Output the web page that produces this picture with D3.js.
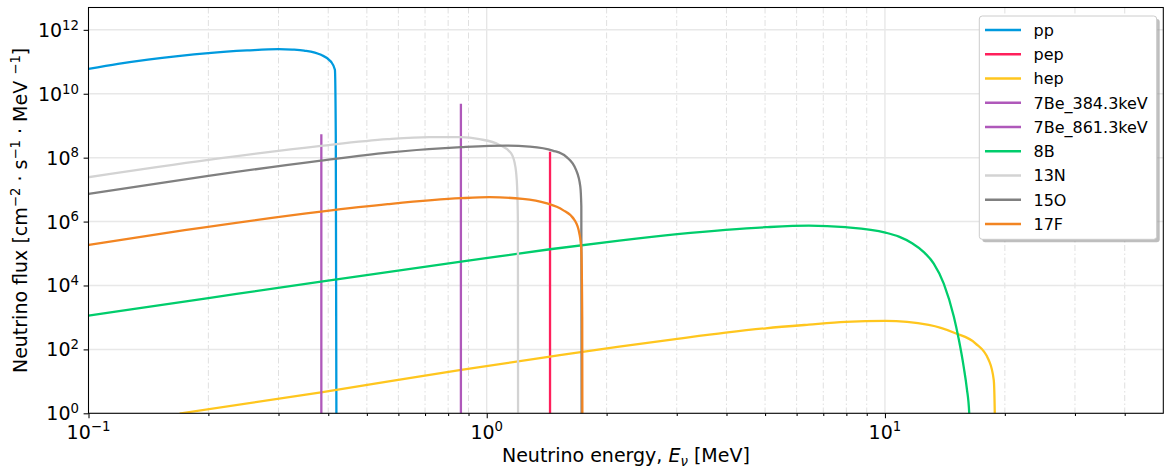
<!DOCTYPE html>
<html><head><meta charset="utf-8">
<script src="https://cdn.jsdelivr.net/npm/d3@7"></script>
<style>
body{margin:0;background:#fff}
svg{display:block}
text{font-family:"DejaVu Sans",sans-serif;fill:#000}
</style>
</head><body>
<svg id="chart" width="1164" height="470"></svg>
<script>
// ---------- data ----------
const xMajorTicks = [0.1, 1, 10];
const xTickExponents = ["\u22121", "0", "1"];
const xMinorTicks = [0.2,0.3,0.4,0.5,0.6,0.7,0.8,0.9,2,3,4,5,6,7,8,9,20,30,40];
const yMajorTicks = [1, 1e2, 1e4, 1e6, 1e8, 1e10, 1e12];
const yTickExponents = ["0","2","4","6","8","10","12"];

const seriesNames = ["pp","pep","hep","7Be_384.3keV","7Be_861.3keV","8B","13N","15O","17F"];
const seriesColors = ["#009ade","#ff1f5b","#ffc61e","#af58ba","#af58ba","#00cd6c","#d3d3d3","#808080","#f28522"];

const ppE = [0.1, 0.1186, 0.141, 0.1677, 0.2, 0.25, 0.3, 0.325, 0.348, 0.3836, 0.406, 0.4157, 0.4178, 0.4198];
const ppF = [6.0e10, 8.6e10, 1.17e11, 1.51e11, 1.87e11, 2.26e11, 2.5e11, 2.42e11, 2.25e11, 1.65e11, 1.02e11, 5.6e10, 5e8, 1e-3];

const pepE = [1.442, 1.442];
const pepF = [1e-3, 1.4e8];

const hepE = [0.1706, 0.3836, 0.8625, 1.442, 2.152, 3.01, 3.98, 5.02, 6.44, 7.96, 10.03, 12.88, 15.03, 16.87, 18.22, 18.76, 18.87, 18.9];
const hepF = [1.0, 4.54, 22.7, 59.2, 122, 214, 334, 458, 594, 722, 776, 582, 320, 155, 46.7, 11, 1.0, 1e-3];

const be384E = [0.3843, 0.3843];
const be384F = [1e-3, 5.0e8];
const be861E = [0.8613, 0.8613];
const be861F = [1e-3, 4.5e9];

const b8E = [0.1, 0.2, 0.3836, 0.8625, 1.442, 2.152, 3.01, 3.98, 5.02, 6.44, 7.96, 10.03, 10.84, 11.7, 12.52, 13.26, 14.05, 14.89, 15.32, 15.77, 16.05, 16.28, 16.5];
const b8F = [1.14e3, 4.04e3, 1.32e4, 5.57e4, 1.36e5, 2.54e5, 4.02e5, 5.48e5, 6.66e5, 7.48e5, 6.66e5, 4.51e5, 3.38e5, 2.1e5, 1.11e5, 4.86e4, 1.15e4, 1.07e3, 210, 27.9, 6.15, 1.0, 1e-3];

const n13E = [0.1, 0.2, 0.3836, 0.564, 0.718, 0.8625, 0.959, 1.076, 1.151, 1.180, 1.192, 1.1975, 1.1992];
const n13F = [2.45e7, 8.5e7, 2.34e8, 3.79e8, 4.38e8, 4.38e8, 3.79e8, 2.51e8, 1.38e8, 5.25e7, 1.24e7, 1e6, 1e-3];

const o15E = [0.1, 0.2, 0.3836, 0.564, 0.8625, 1.118, 1.28, 1.464, 1.582, 1.676, 1.718, 1.728, 1.7318];
const o15F = [7.35e6, 2.69e7, 8.1e7, 1.44e8, 2.13e8, 2.39e8, 2.22e8, 1.67e8, 1.08e8, 4.14e7, 1.24e7, 3.0e6, 1e-3];

const f17E = [0.1, 0.1743, 0.3836, 0.564, 0.8625, 1.016, 1.231, 1.409, 1.551, 1.66, 1.708, 1.728, 1.737, 1.7398];
const f17F = [1.86e5, 5.37e5, 2.05e6, 3.49e6, 5.38e6, 5.79e6, 5.12e6, 3.76e6, 2.32e6, 1.13e6, 4.32e5, 1.3e5, 1e3, 1e-3];

const seriesE = [ppE, pepE, hepE, be384E, be861E, b8E, n13E, o15E, f17E];
const seriesF = [ppF, pepF, hepF, be384F, be861F, b8F, n13F, o15F, f17F];

// ---------- layout ----------
const L = 88.5, R = 1163.3, T = 7.5, B = 413.3;
const svg = d3.select("#chart");
const x = d3.scaleLog().domain([0.1, 50]).range([L, R]);
const y = d3.scaleLog().domain([1, 5e12]).range([B, T]);

svg.append("defs").append("clipPath").attr("id","clip")
  .append("rect").attr("x",L).attr("y",T).attr("width",R-L).attr("height",B-T);

// grid
const grid = svg.append("g");
grid.selectAll(".gmx").data(xMinorTicks).join("line")
  .attr("x1",d=>x(d)).attr("x2",d=>x(d)).attr("y1",T).attr("y2",B)
  .attr("stroke","#dcdcdc").attr("stroke-width",0.9).attr("stroke-dasharray","6,2.5,1.5,2.5");
grid.selectAll(".gMx").data(xMajorTicks).join("line")
  .attr("x1",d=>x(d)).attr("x2",d=>x(d)).attr("y1",T).attr("y2",B)
  .attr("stroke","#e3e3e3").attr("stroke-width",1.2);
grid.selectAll(".gMy").data(yMajorTicks).join("line")
  .attr("x1",L).attr("x2",R).attr("y1",d=>y(d)).attr("y2",d=>y(d))
  .attr("stroke","#e8e8e8").attr("stroke-width",1.5);

// series
const line = d3.line().x(d=>x(d[0])).y(d=>y(d[1])).curve(d3.curveMonotoneX);
const lines = svg.append("g").attr("clip-path","url(#clip)");
seriesNames.forEach((n,i)=>{
  const pts = seriesE[i].map((e,j)=>[e, seriesF[i][j]]);
  const vertical = seriesE[i][0] === seriesE[i][1] && seriesE[i].length === 2;
  lines.append("path")
    .attr("d", vertical ? d3.line().x(d=>x(d[0])).y(d=>y(d[1]))(pts) : line(pts))
    .attr("fill","none").attr("stroke",seriesColors[i]).attr("stroke-width",2.3)
    .attr("stroke-linejoin","round").attr("stroke-linecap","square");
});

// axes
const tickCol = "#000";
const gx = svg.append("g").attr("transform",`translate(0,${B})`);
gx.call(d3.axisBottom(x).tickValues(xMajorTicks).tickSize(4.9).tickFormat(""));
const gxm = svg.append("g").attr("transform",`translate(0,${B})`);
gxm.call(d3.axisBottom(x).tickValues(xMinorTicks).tickSize(2.8).tickFormat(""));
const gy = svg.append("g").attr("transform",`translate(${L},0)`);
gy.call(d3.axisLeft(y).tickValues(yMajorTicks).tickSize(4.9).tickFormat(""));
[gx,gxm,gy].forEach(g=>{
  g.select(".domain").remove();
  g.selectAll(".tick line").attr("stroke",tickCol).attr("stroke-width",1.05);
});

// tick labels
const fs = 19, sfs = 13.3;
const xl = svg.append("g");
xMajorTicks.forEach((v,i)=>{
  const t = xl.append("text").attr("x",x(v)).attr("y",438.5).attr("text-anchor","middle").style("font-size",fs+"px");
  t.append("tspan").text("10");
  t.append("tspan").attr("dy",-7.2).style("font-size",sfs+"px").text(xTickExponents[i]);
});
const yl = svg.append("g");
yMajorTicks.forEach((v,i)=>{
  const t = yl.append("text").attr("x",79).attr("y",y(v)+7).attr("text-anchor","end").style("font-size",fs+"px");
  t.append("tspan").text("10");
  t.append("tspan").attr("dy",-7.2).style("font-size",sfs+"px").text(yTickExponents[i]);
});

// frame
svg.append("rect").attr("x",L).attr("y",T).attr("width",R-L).attr("height",B-T)
  .attr("fill","none").attr("stroke","#000").attr("stroke-width",1.05);

// axis labels
const xt = svg.append("text").attr("x",(L+R)/2).attr("y",462).attr("text-anchor","middle").style("font-size",fs+"px");
xt.append("tspan").text("Neutrino energy, ");
xt.append("tspan").style("font-style","italic").text("E");
xt.append("tspan").attr("dy",3.5).style("font-size",sfs+"px").style("font-style","italic").text("\u03bd");
xt.append("tspan").attr("dy",-3.5).text(" [MeV]");

const yt = svg.append("text").attr("transform",`translate(27,${(T+B)/2}) rotate(-90)`)
  .attr("text-anchor","middle").style("font-size",fs+"px");
yt.append("tspan").text("Neutrino flux [cm");
yt.append("tspan").attr("dy",-7.2).style("font-size",sfs+"px").text("\u22122");
yt.append("tspan").attr("dy",7.2).text(" \u00b7 s");
yt.append("tspan").attr("dy",-7.2).style("font-size",sfs+"px").text("\u22121");
yt.append("tspan").attr("dy",7.2).text(" \u00b7 MeV ");
yt.append("tspan").attr("dy",-7.2).style("font-size",sfs+"px").text("\u22121");
yt.append("tspan").attr("dy",7.2).text("]");

// legend
const lg = svg.append("g");
const lx = 979.3, ly = 16, lw = 177.4, lh = 223.3;
lg.append("rect").attr("x",lx+3).attr("y",ly+3).attr("width",lw).attr("height",lh).attr("rx",3)
  .attr("fill","#888").attr("opacity",0.55);
lg.append("rect").attr("x",lx).attr("y",ly).attr("width",lw).attr("height",lh).attr("rx",3)
  .attr("fill","#fff").attr("stroke","#cccccc").attr("stroke-width",1);
seriesNames.forEach((n,i)=>{
  const cy = 30 + i*24.25;
  lg.append("line").attr("x1",985).attr("x2",1021).attr("y1",cy).attr("y2",cy)
    .attr("stroke",seriesColors[i]).attr("stroke-width",2.3);
  lg.append("text").attr("x",1033.5).attr("y",cy+5.8).style("font-size","16px").text(n);
});
</script>
</body></html>
